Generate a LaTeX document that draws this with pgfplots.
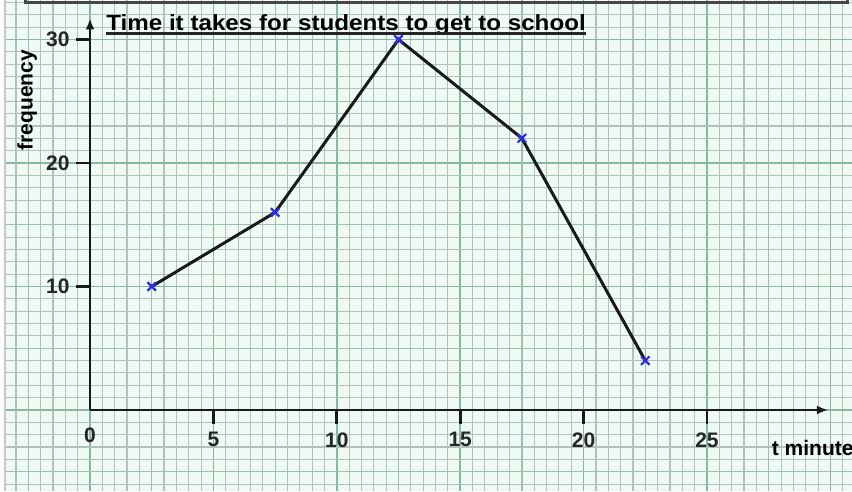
\documentclass[border=0pt]{standalone}
\usepackage{fontspec}
\setmainfont{Liberation Sans}
\usepackage{pgfplots}
\pgfplotsset{compat=1.18}
\usetikzlibrary{arrows.meta}

% graph-paper colours
\definecolor{paper}{RGB}{238,250,243}
\definecolor{gridminor}{RGB}{178,194,187}
\definecolor{gridmed}{RGB}{155,192,174}
\definecolor{gridmajor}{RGB}{135,185,160}
\definecolor{framegray}{RGB}{70,70,70}
\definecolor{edgegray}{RGB}{200,200,200}
\definecolor{markblue}{RGB}{45,45,225}

\begin{document}
\begin{tikzpicture}
% graph paper: 0.5 min x 1 per small square, heavier lines every 5 and 10 squares
\begin{axis}[
  name=bg, scale only axis, width=852pt, height=491pt,
  xmin=-3.647, xmax=30.875, ymin=-6.56, ymax=33.2,
  axis line style={draw=none}, tick style={draw=none},
  major tick length=0pt, minor tick length=0pt,
  xtick={0,5,...,30}, ytick={0,10,20,30},
  minor xtick={-3.5,-3,...,30.5}, minor ytick={-6,-5,...,33},
  extra x ticks={-2.5,2.5,7.5,12.5,17.5,22.5,27.5},
  extra y ticks={-5,5,15,25},
  xticklabels={}, yticklabels={},
  extra x tick labels={}, extra y tick labels={},
  grid=both,
  minor grid style={draw=gridminor, line width=1.1pt},
  major grid style={draw=gridmajor, line width=1.5pt},
  extra tick style={grid=major, major grid style={draw=gridmed, line width=1.2pt}},
  axis background/.style={fill=paper},
  clip=false,
]
\coordinate (O) at (axis cs:0,0);
% page edge and frame of the box above
\fill[white] (axis cs:-3.647,-6.56) rectangle (axis cs:-3.48,33.2);
\draw[line width=2pt, edgegray] (axis cs:-3.444,-6.56) -- (axis cs:-3.444,33.2);
\draw[line width=3pt, framegray] (axis cs:-2.63,34) -- (axis cs:-2.63,32.96)
   -- (axis cs:30.71,32.96) -- (axis cs:30.71,34);
% title, axis names
\node[anchor=base west, inner sep=0pt, font=\fontsize{22}{26}\selectfont\bfseries] (T)
  at (axis cs:0.65,30.69) {\scalebox{1.1}[1]{Time it takes for students to get to school}};
\draw[line width=2.6pt, black!85] ([yshift=-2.8pt]T.base west) -- ([yshift=-2.8pt]T.base east);
\node[anchor=base west, inner sep=0pt, font=\fontsize{21}{25}\selectfont\bfseries]
  at (axis cs:27.62,-3.72) {t minutes};
\node[rotate=90, inner sep=0pt, font=\fontsize{21}{25}\selectfont\bfseries]
  at (axis cs:-2.55,25.1) {frequency};
\end{axis}

% frequency polygon
\begin{axis}[
  at={(O)}, anchor=south west, scale only axis,
  width=737.9pt, height=391.5pt,
  xmin=0, xmax=29.9, ymin=0, ymax=31.7,
  axis lines=left,
  axis line style={line width=2.8pt, black!90, -{Latex[length=11pt,width=9pt]}},
  xtick={5,10,15,20,25}, ytick={10,20,30},
  extra x ticks={0},
  extra x tick style={major tick length=9pt, tick style={draw=none}},
  tick align=outside, major tick length=14pt,
  tick style={line width=2.8pt, black!90},
  ticklabel style={font=\fontsize{21}{25}\selectfont\bfseries, black!85},
  xticklabel style={yshift=-5pt},
  yticklabel style={xshift=-3pt},
  /pgf/number format/assume math mode=true,
  clip=false,
]
\addplot[black!90, line width=3pt, mark=x, mark size=6pt,
  mark options={draw=markblue, line width=2.2pt}] coordinates {
  (2.5,10) (7.5,16) (12.5,30) (17.5,22) (22.5,4)
};
\end{axis}
\pgfresetboundingbox
\path[use as bounding box] (bg.south west) rectangle (bg.north east);
\end{tikzpicture}
\end{document}
